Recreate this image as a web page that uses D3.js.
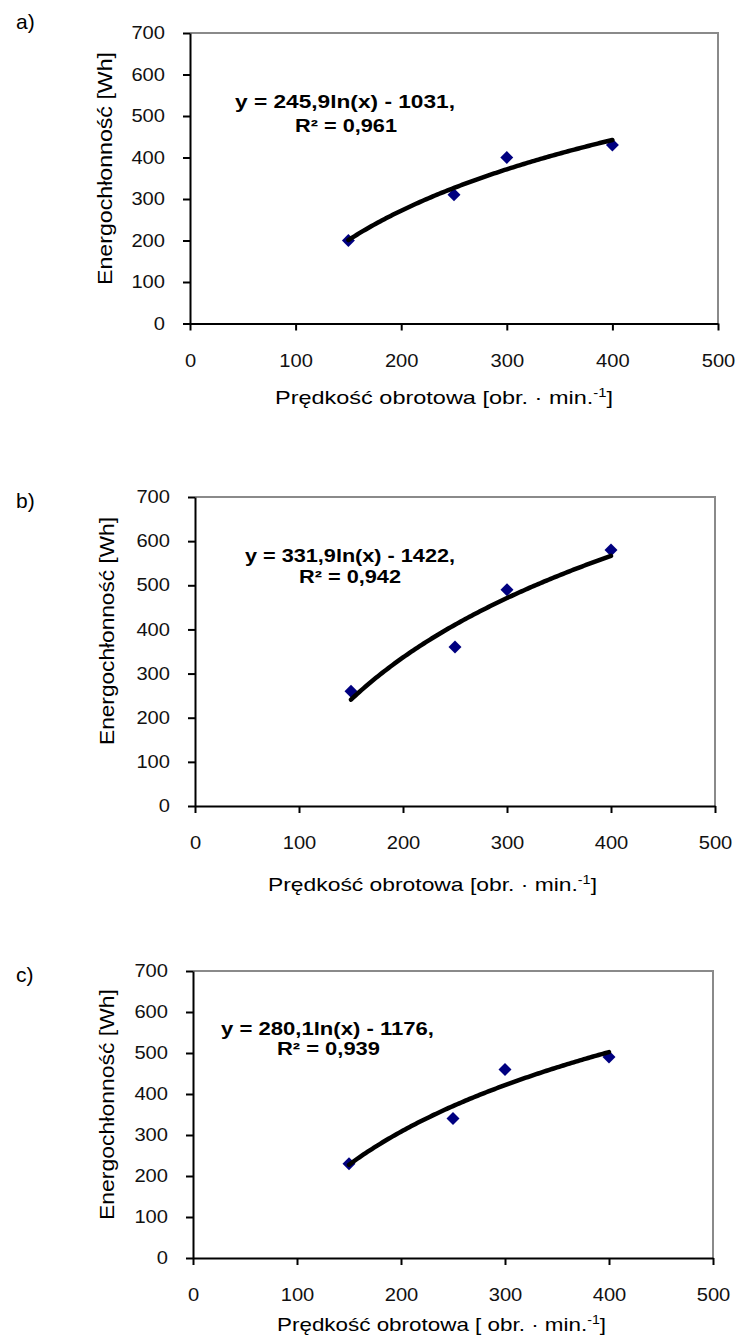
<!DOCTYPE html>
<html>
<head>
<meta charset="utf-8">
<script src="https://cdnjs.cloudflare.com/ajax/libs/d3/7.8.5/d3.min.js"></script>
<style>
body { margin: 0; background: #fff; }
svg { display: block; font-family: "Liberation Sans", Arial, sans-serif; }
.axis path, .axis line { stroke: #000; stroke-width: 2; }
.axis text { fill: #111; }
</style>
</head>
<body>
<div id="chart"></div>
<script>
// Measured points: rotational speed vs energy use
var speeds = [150, 250, 300, 400];
var energyA = [200, 310, 400, 430];
var energyB = [260, 360, 490, 580];
var energyC = [230, 340, 460, 490];

// Log trend lines printed on the chart: y = k ln(x) + b
var trendK = [245.9, 331.9, 280.1];
var trendB = [-1031, -1422, -1176];
var trendR2 = ["0,961", "0,942", "0,939"];

var xTicks = [0, 100, 200, 300, 400, 500];
var yTicks = [0, 100, 200, 300, 400, 500, 600, 700];
var panelNames = ["a)", "b)", "c)"];
var yTitle = "Energochłonność  [Wh]";
var xTitles = ["Prędkość obrotowa  [obr. · min.", "Prędkość obrotowa  [obr. · min.", "Prędkość obrotowa [ obr. · min."];

var series = [energyA, energyB, energyC];

// page layout for the three stacked panels
var layout = [
    { left: 190, right: 718, top: 33, bottom: 323.5, labelY: 22,
      eq: [345, 108, 220, 346, 132, 102], xt: [444, 404, 338], yt: [112, 168.5, 233] },
    { left: 195, right: 715, top: 497, bottom: 806, labelY: 501,
      eq: [350, 562, 210, 350, 583, 102], xt: [432.5, 891, 329], yt: [114, 631, 228] },
    { left: 193, right: 713, top: 971, bottom: 1258, labelY: 975,
      eq: [327.5, 1035, 213, 328.5, 1055, 103], xt: [441.5, 1331, 329], yt: [114, 1104.5, 231] }
];

var svg = d3.select("#chart").append("svg")
    .attr("width", 738)
    .attr("height", 1335);

var stretch = 1.15;

function widen(sel, k) {
    sel.each(function () {
        var w = this.getComputedTextLength();
        d3.select(this).attr("textLength", w * k).attr("lengthAdjust", "spacingAndGlyphs");
    });
}

function fmt(v) { return String(v).replace(".", ","); }

layout.forEach(function (L, i) {
    var x = d3.scaleLinear().domain([0, 500]).range([L.left, L.right]);
    var y = d3.scaleLinear().domain([0, 700]).range([L.bottom, L.top]);
    var g = svg.append("g");

    // panel letter
    g.append("text")
        .attr("x", 16)
        .attr("y", L.labelY)
        .attr("dy", "0.35em")
        .style("font-size", "21px")
        .text(panelNames[i]);

    // grey frame top / right
    g.append("path")
        .attr("d", "M" + L.left + "," + L.top + "H" + L.right + "V" + L.bottom)
        .attr("fill", "none")
        .attr("stroke", "#8a8a8a")
        .attr("stroke-width", 2);

    // markers
    var pts = speeds.map(function (s, j) { return [s, series[i][j]]; });
    g.selectAll(".pt")
        .data(pts)
        .enter()
        .append("path")
        .attr("d", d3.symbol().type(d3.symbolSquare).size(84))
        .attr("transform", function (d) { return "translate(" + x(d[0]) + "," + y(d[1]) + ") rotate(45)"; })
        .attr("fill", "#000080");

    // trend line
    var curve = d3.range(150, 400.1, 2).map(function (s) {
        return [s, trendK[i] * Math.log(s) + trendB[i]];
    });
    g.append("path")
        .attr("d", d3.line().x(function (d) { return x(d[0]); }).y(function (d) { return y(d[1]); })(curve))
        .attr("fill", "none")
        .attr("stroke", "#000")
        .attr("stroke-width", 4.5)
        .attr("stroke-linecap", "round");

    // axes
    var xa = g.append("g")
        .attr("class", "axis")
        .attr("transform", "translate(0," + L.bottom + ")")
        .call(d3.axisBottom(x).tickValues(xTicks).tickSize(7).tickSizeOuter(0).tickPadding(24));
    var ya = g.append("g")
        .attr("class", "axis")
        .attr("transform", "translate(" + L.left + ",0)")
        .call(d3.axisLeft(y).tickValues(yTicks).tickSize(7).tickSizeOuter(0).tickPadding(18));
    [xa, ya].forEach(function (a) {
        a.selectAll("text").style("font-size", "17.5px").attr("font-family", null);
        a.attr("font-family", null).attr("font-size", null);
        widen(a.selectAll("text"), stretch);
    });

    // equation
    var e = L.eq;
    g.append("text")
        .attr("x", e[0]).attr("y", e[1])
        .attr("text-anchor", "middle")
        .style("font-size", "18px").style("font-weight", "bold")
        .attr("textLength", e[2]).attr("lengthAdjust", "spacingAndGlyphs")
        .text("y = " + fmt(trendK[i]) + "ln(x) - " + Math.abs(trendB[i]) + ",");
    g.append("text")
        .attr("x", e[3]).attr("y", e[4])
        .attr("text-anchor", "middle")
        .style("font-size", "18px").style("font-weight", "bold")
        .attr("textLength", e[5]).attr("lengthAdjust", "spacingAndGlyphs")
        .text("R² = " + trendR2[i]);

    // x axis title
    var xt = g.append("text")
        .attr("x", L.xt[0]).attr("y", L.xt[1])
        .attr("text-anchor", "middle")
        .style("font-size", "19px")
        .attr("textLength", L.xt[2]).attr("lengthAdjust", "spacingAndGlyphs");
    xt.append("tspan").text(xTitles[i]);
    xt.append("tspan").attr("dy", -7).style("font-size", "12px").text("-1");
    xt.append("tspan").attr("dy", 7).text("]");

    // y axis title
    g.append("text")
        .attr("transform", "translate(" + L.yt[0] + "," + L.yt[1] + ") rotate(-90)")
        .attr("text-anchor", "middle")
        .style("font-size", "20px")
        .attr("textLength", L.yt[2]).attr("lengthAdjust", "spacingAndGlyphs")
        .text(yTitle);
});
</script>
</body>
</html>
